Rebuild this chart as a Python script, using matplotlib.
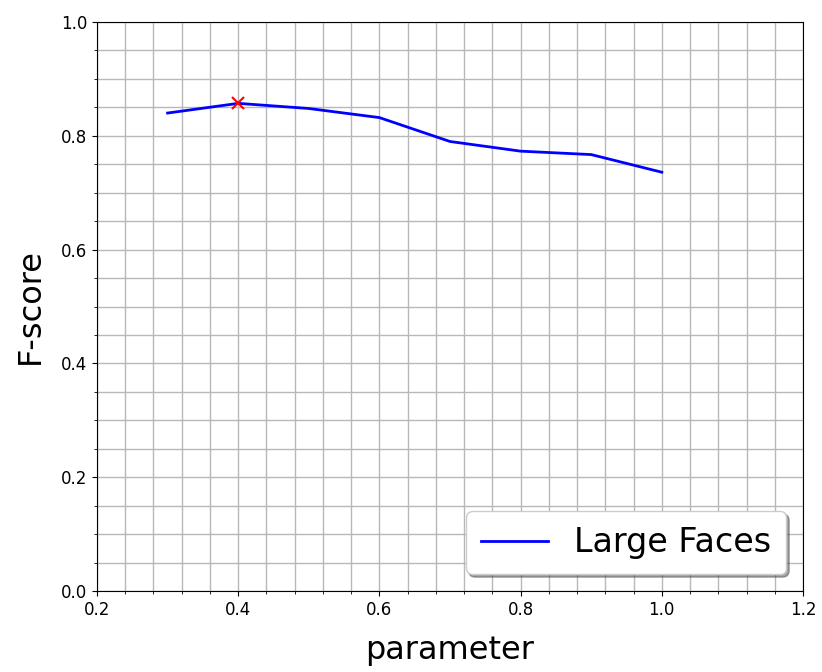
import matplotlib
matplotlib.use("Agg")
from matplotlib import pyplot as plt
from matplotlib.ticker import MultipleLocator

# F-score for each parameter value
params = [0.3, 0.4, 0.5, 0.6, 0.7, 0.8, 0.9, 1.0]
fscores = [0.840, 0.857, 0.848, 0.832, 0.790, 0.773, 0.767, 0.736]
series_label = "Large Faces"


def main():
    fig = plt.figure(figsize=(8.22, 6.72), dpi=100)
    ax = fig.add_axes([97 / 822, 81 / 672, 706 / 822, 569 / 672])

    ax.plot(params, fscores, c='blue', lw=2, label=series_label)

    # mark the best score
    best = max(range(len(fscores)), key=lambda i: fscores[i])
    ax.plot(params[best], fscores[best], 'x', c='red', ms=8, mew=1.5)

    ax.set_xlim(0.2, 1.2)
    ax.set_ylim(0, 1)
    ax.xaxis.set_major_locator(MultipleLocator(0.2))
    ax.xaxis.set_minor_locator(MultipleLocator(0.04))
    ax.yaxis.set_major_locator(MultipleLocator(0.2))
    ax.yaxis.set_minor_locator(MultipleLocator(0.05))
    ax.grid(which='both', color='#b8b8b8', lw=1)
    ax.set_axisbelow(True)
    ax.tick_params(labelsize=12)

    ax.set_xlabel('parameter', fontsize=23, labelpad=12)
    ax.set_ylabel('F-score', fontsize=23, labelpad=11)

    ax.legend(loc='lower right', fontsize=24, shadow=True, fancybox=True,
              framealpha=1, borderpad=0.45)

    fig.savefig('out.png', dpi=100)


main()
